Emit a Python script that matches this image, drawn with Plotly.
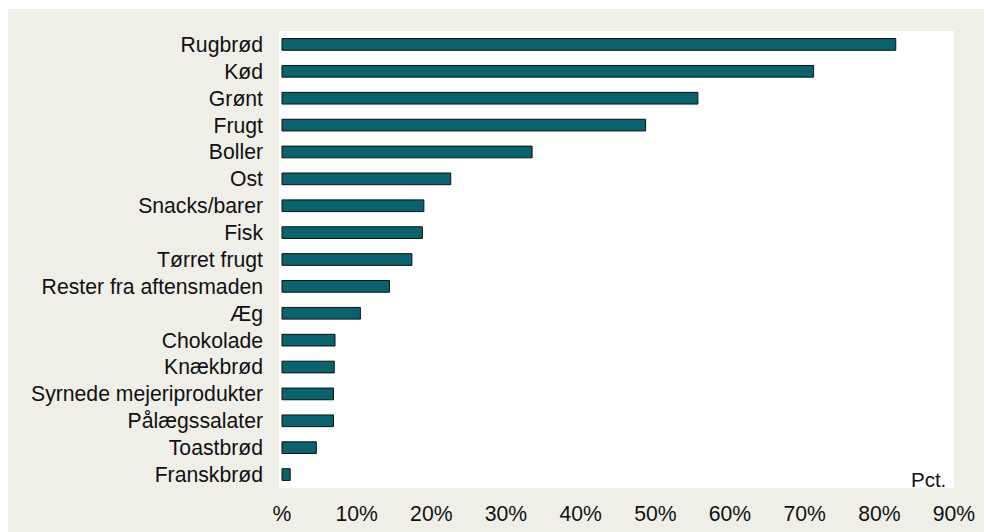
import plotly.graph_objects as go

# Share of respondents per food type (pct.)
categories = [
    "Rugbrød", "Kød", "Grønt", "Frugt", "Boller", "Ost", "Snacks/barer",
    "Fisk", "Tørret frugt", "Rester fra aftensmaden", "Æg", "Chokolade",
    "Knækbrød", "Syrnede mejeriprodukter", "Pålægssalater", "Toastbrød",
    "Franskbrød",
]
values = [82.2, 71.2, 55.7, 48.7, 33.5, 22.6, 19.0, 18.8, 17.4, 14.4, 10.5,
          7.1, 7.0, 6.9, 6.9, 4.6, 1.1]

tick_values = [0, 10, 20, 30, 40, 50, 60, 70, 80, 90]
tick_labels = ["%", "10%", "20%", "30%", "40%", "50%", "60%", "70%", "80%", "90%"]

W, H = 984, 532
PL, PR, PT, PB = 279, 954, 31, 488   # plot area in pixels
BG_X0, BG_Y0 = 8, 9                  # top-left corner of the tinted panel

BEIGE = "#efeee7"
TEAL = "#08636f"
FONT = "Liberation Sans, Arial, sans-serif"


def px_to_paper_x(px):
    return (px - PL) / (PR - PL)


def px_to_paper_y(py):
    return (PB - py) / (PB - PT)


fig = go.Figure(
    go.Bar(
        x=values,
        y=categories,
        orientation="h",
        width=0.435,
        marker=dict(color=TEAL, line=dict(color="#101010", width=1)),
        hoverinfo="x+y",
    )
)

# white margin strips above and left of the tinted panel
white_strips = [
    dict(
        type="rect", xref="paper", yref="paper",
        x0=px_to_paper_x(-5), x1=px_to_paper_x(W + 5),
        y0=px_to_paper_y(BG_Y0), y1=px_to_paper_y(-5),
        fillcolor="white", line=dict(width=0), layer="below",
    ),
    dict(
        type="rect", xref="paper", yref="paper",
        x0=px_to_paper_x(-5), x1=px_to_paper_x(BG_X0),
        y0=px_to_paper_y(H + 5), y1=px_to_paper_y(-5),
        fillcolor="white", line=dict(width=0), layer="below",
    ),
]

fig.update_layout(
    width=W,
    height=H,
    margin=dict(l=PL, r=W - PR, t=PT, b=H - PB, pad=0, autoexpand=False),
    paper_bgcolor=BEIGE,
    plot_bgcolor="white",
    font=dict(family=FONT, size=21.2, color="#111111"),
    showlegend=False,
    bargap=0.5,
    shapes=white_strips,
    annotations=[
        dict(
            text="Pct.",
            xref="paper", yref="paper",
            x=px_to_paper_x(948), y=px_to_paper_y(493),
            xanchor="right", yanchor="bottom",
            showarrow=False,
            font=dict(family=FONT, size=20.5, color="#111111"),
        )
    ],
)

fig.update_xaxes(
    range=[-0.4, 90],
    tickvals=tick_values,
    ticktext=tick_labels,
    showgrid=False,
    zeroline=False,
    showline=False,
    ticks="",
    ticklabelstandoff=11,
    automargin=False,
)
fig.update_yaxes(
    autorange="reversed",
    showgrid=False,
    zeroline=False,
    showline=False,
    ticks="",
    ticklabelstandoff=15,
    automargin=False,
)

fig.write_html("out.html")
